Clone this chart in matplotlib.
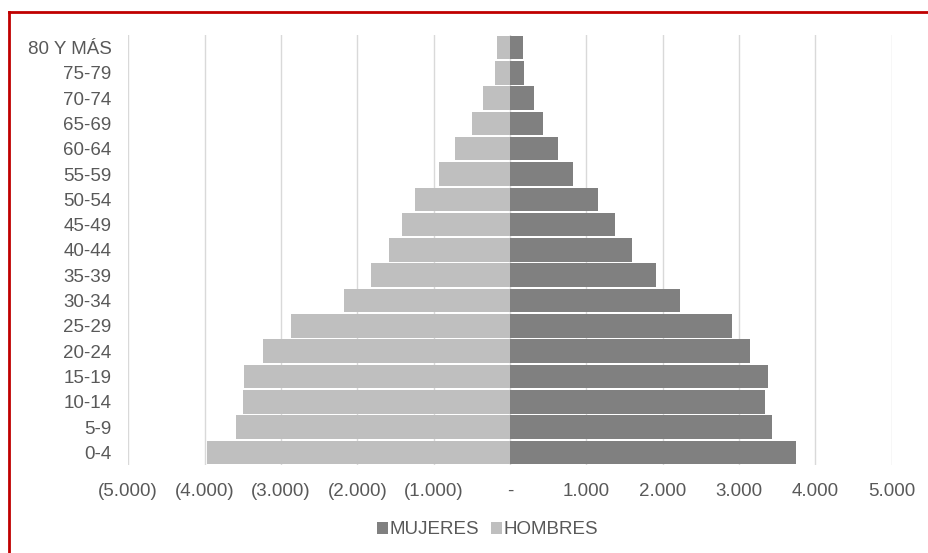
import numpy as np
import matplotlib
matplotlib.use('Agg')
import matplotlib.pyplot as plt
from matplotlib.ticker import FuncFormatter
from matplotlib.lines import Line2D

plt.rcParams['font.family'] = ['Liberation Sans', 'DejaVu Sans']

grupos = ['0-4', '5-9', '10-14', '15-19', '20-24', '25-29', '30-34', '35-39',
          '40-44', '45-49', '50-54', '55-59', '60-64', '65-69', '70-74',
          '75-79', '80 Y MÁS']
mujeres = [3748, 3425, 3333, 3372, 3145, 2905, 2232, 1913,
           1594, 1380, 1153, 830, 629, 427, 310, 183, 172]
hombres = [3967, 3591, 3495, 3482, 3229, 2866, 2168, 1822,
           1582, 1421, 1245, 927, 726, 494, 350, 202, 176]

gris_txt = '#595959'

def fmt(v, pos):
    if v == 0:
        return '-'
    s = '{:,.0f}'.format(abs(v)).replace(',', '.')
    if v < 0:
        return '(' + s + ')'
    return s

fig = plt.figure(figsize=(9.29, 5.53), dpi=100)
ax = fig.add_axes([0.138, 0.159, 0.822, 0.778])

y = np.arange(len(grupos))
ax.barh(y, mujeres, height=0.93, color='#808080', label='MUJERES', zorder=2)
ax.barh(y, -np.array(hombres), height=0.93, color='#bfbfbf', label='HOMBRES', zorder=2)

ax.set_xlim(-5000, 5000)
ax.set_ylim(-0.5, len(grupos) - 0.5)
ax.set_xticks(np.arange(-5000, 5001, 1000))
ax.xaxis.set_major_formatter(FuncFormatter(fmt))
ax.set_yticks(y)
ax.set_yticklabels(grupos)
ax.grid(axis='x', color='#d9d9d9', linewidth=1, zorder=0)
ax.set_axisbelow(True)
for s in ax.spines.values():
    s.set_visible(False)
ax.tick_params(axis='both', length=0, labelsize=13.5, colors=gris_txt)
ax.tick_params(axis='x', pad=13)
ax.tick_params(axis='y', pad=12)

leg = fig.legend(loc='center', bbox_to_anchor=(0.525, 0.042), ncol=2, frameon=False,
                 fontsize=13.5, handlelength=0.6, handleheight=0.6,
                 handletextpad=0.1, columnspacing=0.6)
for t in leg.get_texts():
    t.set_color(gris_txt)

# marco rojo
fig.add_artist(Line2D([9 / 929, 1], [1 - 12 / 553, 1 - 12 / 553], color='#c00000', linewidth=2))
fig.add_artist(Line2D([9 / 929, 9 / 929], [0, 1 - 12 / 553], color='#c00000', linewidth=2))

plt.savefig('out.png', dpi=100)
